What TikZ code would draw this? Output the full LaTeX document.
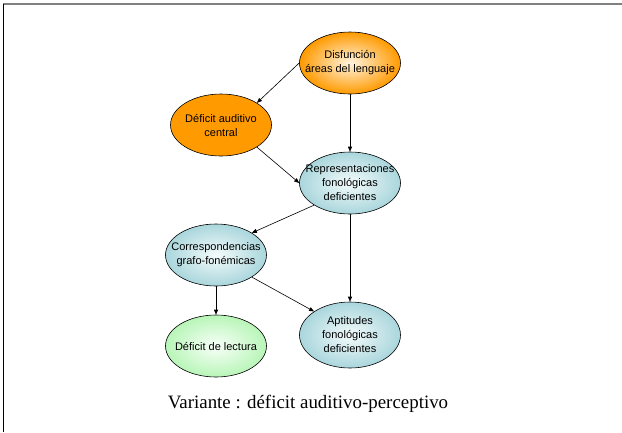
\documentclass[tikz,border=0pt]{standalone}
\usepackage{fontspec}
\setmainfont{Liberation Serif}
\newfontfamily\nodefont{Liberation Sans}
\usetikzlibrary{shapes.geometric,arrows.meta}
\definecolor{orangeedge}{HTML}{FF9A00}
\definecolor{orangecore}{HTML}{FFF4E0}
\definecolor{blueedge}{HTML}{A9D6DC}
\definecolor{bluecore}{HTML}{F4FBFB}
\definecolor{greenedge}{HTML}{B8F5B8}
\definecolor{greencore}{HTML}{F8FFF8}
\definecolor{framegray}{HTML}{808080}
\tikzset{
  % the ellipse keeps a fixed size; its text sits in a centred label
  bubble/.style={ellipse, draw=black, line width=0.6pt, inner sep=0pt,
    minimum width=101pt, minimum height=62pt,
    label={[align=center, inner sep=0pt,
            font=\nodefont\fontsize{11}{14}\selectfont, text=black]center:#1}},
  orangeglow/.style={bubble=#1, shade, inner color=orangecore, outer color=orangeedge},
  orangesolid/.style={bubble=#1, fill=orangeedge},
  bluebubble/.style={bubble=#1, shade, inner color=bluecore, outer color=blueedge},
  greenbubble/.style={bubble=#1, shade, inner color=greencore, outer color=greenedge},
  link/.style={draw=black, line width=0.6pt, -{Triangle[length=5pt,width=4pt]}}
}
\begin{document}
\begin{tikzpicture}[x=1pt,y=-1pt]
  \useasboundingbox (0,0) rectangle (622,432);
  % frame
  \draw[framegray, line width=2pt] (3,4) -- (622,4);
  \draw[black, line width=1pt] (3.5,4) -- (3.5,432);

  % nodes
  \node[orangeglow={Disfunción\\áreas del lenguaje}]  (dis) at (350,63)  {};
  \node[orangesolid={Déficit auditivo\\central}] (dac) at (221,125) {};
  \node[bluebubble={Representaciones\\fonológicas\\deficientes}] (rep) at (350,183) {};
  \node[bluebubble={Correspondencias\\grafo-fonémicas}] (cor) at (216,255) {};
  \node[greenbubble={Déficit de lectura}] (lec) at (216,346) {};
  \node[bluebubble={Aptitudes\\fonológicas\\deficientes}, minimum height=66pt] (apt) at (350,335) {};

  % connectors
  \draw[link] (dis.west) -- (dac.north east);
  \draw[link] (dis.south) -- (rep.north);
  \draw[link] (dac.south east) -- (rep.west);
  \draw[link] (rep.south west) -- (cor.north east);
  \draw[link] (rep.south) -- (apt.north);
  \draw[link] (cor.south) -- (lec.north);
  \draw[link] (cor.south east) -- (apt.north west);

  % caption
  \node[font=\fontsize{18.9}{22}\selectfont, anchor=base] (cap) at (308,408)
    {Variante : déficit auditivo-perceptivo};
\end{tikzpicture}
\end{document}
